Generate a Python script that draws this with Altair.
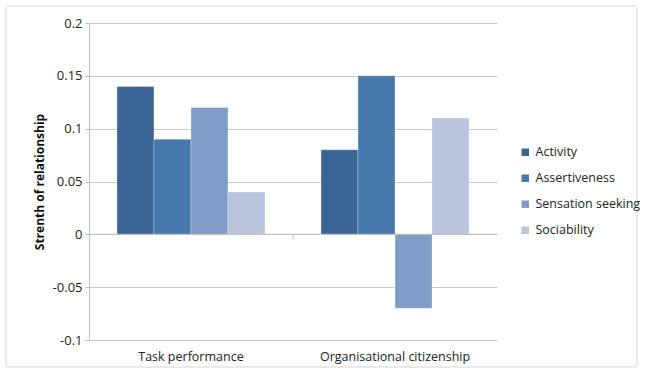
import altair as alt
import pandas as pd

# Outcome groups and extraversion facets
outcomes = ["Task performance", "Organisational citizenship"]
facets = ["Activity", "Assertiveness", "Sensation seeking", "Sociability"]
colors = ["#3B6594", "#4678AB", "#809DC7", "#B8C5DD"]

# Strength of relationship per facet, one list per outcome
task_values = [0.14, 0.09, 0.12, 0.04]
ocb_values = [0.08, 0.15, -0.07, 0.11]

y_ticks = [-0.1, -0.05, 0, 0.05, 0.1, 0.15, 0.2]

rows = []
for outcome, vals in zip(outcomes, [task_values, ocb_values]):
    for facet, v in zip(facets, vals):
        rows.append({"outcome": outcome, "facet": facet, "value": v})
df = pd.DataFrame(rows)

FONT = "Open Sans"
W, H = 408, 317

bars = alt.Chart(df).mark_bar(stroke="#ffffff", strokeWidth=0.6, strokeOpacity=0.5).encode(
    x=alt.X(
        "outcome:N",
        sort=outcomes,
        title=None,
        scale=alt.Scale(paddingInner=0.2745, paddingOuter=0.137),
        axis=alt.Axis(
            labelAngle=0, domain=False, ticks=False, labelPadding=10,
            labelFontSize=12.5, labelColor="#222222", labelFont=FONT,
        ),
    ),
    xOffset=alt.XOffset("facet:N", sort=facets, scale=alt.Scale(paddingInner=0, paddingOuter=0)),
    y=alt.Y(
        "value:Q",
        title="Strenth of relationship",
        scale=alt.Scale(domain=[-0.1, 0.2], nice=False, zero=False),
        axis=alt.Axis(
            values=y_ticks,
            labelExpr="datum.value + ''",
            grid=True, gridColor="#c8c8c8", gridWidth=1,
            domain=True, domainColor="#bdbdbd",
            ticks=True, tickSize=4, tickColor="#bdbdbd",
            labelFontSize=13, labelColor="#222222", labelFont=FONT, labelPadding=3,
            titleFontSize=12, titleFontWeight="bold", titleColor="#111111",
            titleFont=FONT, titlePadding=6,
        ),
    ),
    color=alt.Color(
        "facet:N",
        sort=facets,
        scale=alt.Scale(domain=facets, range=colors),
        legend=alt.Legend(
            title=None, orient="none", legendX=430, legendY=123,
            symbolType="square", symbolSize=56, symbolStrokeWidth=0,
            labelFontSize=12.5, labelColor="#222222", labelFont=FONT,
            rowPadding=13, labelOffset=4,
        ),
    ),
)

# zero baseline across the plot
zero = alt.Chart(pd.DataFrame({"y": [0]})).mark_rule(color="#bdbdbd", strokeWidth=1).encode(
    y="y:Q"
)

# category separator tick below the baseline
sep = alt.Chart(pd.DataFrame({"k": [0]})).mark_rule(color="#bdbdbd", strokeWidth=1).encode(
    x=alt.value(W / 2), y=alt.value(211), y2=alt.value(216)
)

# thin frame around the whole figure
frame = alt.Chart(pd.DataFrame({"k": [0]})).mark_rect(
    fill=None, stroke="#d6d6d6", strokeWidth=1, clip=False, cornerRadius=2
).encode(
    x=alt.value(-83), x2=alt.value(548), y=alt.value(-17), y2=alt.value(344)
)

chart = alt.layer(frame, bars, zero, sep).properties(
    width=W, height=H,
    autosize=alt.AutoSizeParams(type="none"),
    padding={"left": 89, "top": 23, "right": 148, "bottom": 35},
    background="#ffffff",
).configure_view(stroke=None)

chart.save("out.html", embed_options={"renderer": "svg", "actions": False})
